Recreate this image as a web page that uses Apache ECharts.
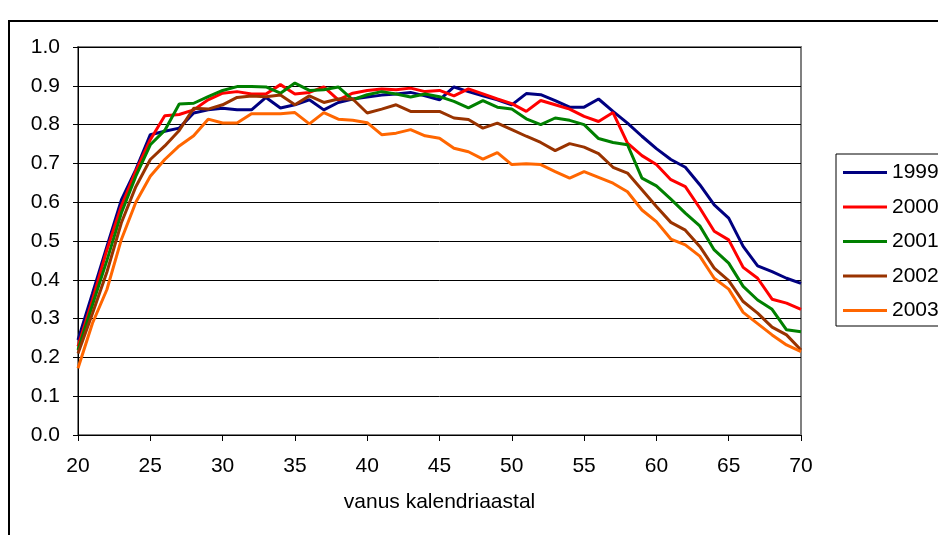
<!DOCTYPE html>
<html>
<head>
<meta charset="utf-8">
<script src="https://cdn.jsdelivr.net/npm/echarts@6/dist/echarts.min.js"></script>
<style>
  html, body { margin: 0; padding: 0; background: #fff; }
  #chart { width: 938px; height: 535px; }
</style>
</head>
<body>
<div id="chart"></div>
<script>
// vanus 20..70
const ages = [20,21,22,23,24,25,26,27,28,29,30,31,32,33,34,35,36,37,38,39,40,41,42,43,44,45,
  46,47,48,49,50,51,52,53,54,55,56,57,58,59,60,61,62,63,64,65,66,67,68,69,70];

const years = ['1999', '2000', '2001', '2002', '2003'];

const v1999 = [0.245,0.365,0.486,0.606,0.684,0.774,0.783,0.791,0.830,0.838,0.842,0.838,0.838,0.870,0.843,
  0.851,0.864,0.838,0.857,0.866,0.871,0.876,0.879,0.883,0.874,0.864,0.897,0.885,0.874,0.864,0.851,
  0.880,0.877,0.862,0.845,0.845,0.866,0.834,0.804,0.770,0.738,0.710,0.690,0.645,0.593,0.559,0.486,
  0.436,0.421,0.404,0.391];
const v2000 = [0.228,0.348,0.477,0.590,0.680,0.761,0.823,0.826,0.838,0.864,0.881,0.885,0.879,0.879,0.903,
  0.879,0.883,0.897,0.864,0.881,0.888,0.892,0.890,0.894,0.885,0.888,0.874,0.892,0.879,0.866,0.854,
  0.834,0.862,0.851,0.840,0.821,0.808,0.831,0.752,0.720,0.697,0.658,0.640,0.585,0.525,0.503,0.432,
  0.404,0.350,0.340,0.324];
const v2001 = [0.219,0.335,0.450,0.572,0.667,0.748,0.785,0.853,0.855,0.872,0.888,0.898,0.898,0.897,0.881,
  0.907,0.888,0.890,0.897,0.864,0.877,0.885,0.879,0.871,0.879,0.872,0.860,0.843,0.862,0.845,0.840,
  0.815,0.800,0.817,0.811,0.800,0.764,0.754,0.748,0.662,0.642,0.608,0.572,0.539,0.477,0.443,0.383,
  0.348,0.324,0.271,0.266];
const v2002 = [0.210,0.313,0.420,0.547,0.640,0.710,0.745,0.785,0.842,0.840,0.851,0.870,0.874,0.872,0.876,
  0.851,0.874,0.857,0.866,0.866,0.830,0.840,0.851,0.834,0.834,0.834,0.817,0.813,0.791,0.804,0.787,
  0.770,0.754,0.733,0.751,0.742,0.725,0.690,0.675,0.632,0.589,0.548,0.528,0.486,0.430,0.398,0.344,
  0.314,0.278,0.258,0.219];
const v2003 = [0.172,0.288,0.375,0.504,0.600,0.667,0.710,0.745,0.771,0.814,0.804,0.804,0.828,0.828,0.828,
  0.831,0.802,0.831,0.814,0.811,0.805,0.774,0.778,0.787,0.771,0.765,0.739,0.730,0.711,0.728,0.697,
  0.699,0.697,0.679,0.662,0.679,0.664,0.649,0.627,0.580,0.550,0.505,0.490,0.461,0.404,0.376,0.316,
  0.287,0.258,0.232,0.215];

const values = [v1999, v2000, v2001, v2002, v2003];
const colors = ['#000080', '#ff0000', '#008000', '#993300', '#ff6600'];

const font = "'Liberation Sans', Arial, sans-serif";

const chart = echarts.init(document.getElementById('chart'), null, { renderer: 'canvas' });

chart.setOption({
  animation: false,
  color: colors,
  textStyle: { fontFamily: font },
  // välimine raam
  graphic: [{
    type: 'rect',
    shape: { x: 9, y: 21, width: 1000, height: 600 },
    style: { fill: 'none', stroke: '#000', lineWidth: 2 },
    silent: true
  }],
  grid: {
    left: 78, right: 137, top: 47, bottom: 100,
    show: true, borderColor: '#808080', borderWidth: 2
  },
  legend: {
    orient: 'vertical',
    left: 836, top: 154,
    padding: [8, 12, 5, 7],
    icon: 'rect',
    itemWidth: 44, itemHeight: 3, itemGap: 13.5,
    borderColor: '#000', borderWidth: 1,
    textStyle: { fontFamily: font, fontSize: 21, lineHeight: 21, color: '#000' },
    data: years
  },
  xAxis: {
    type: 'value',
    min: 20, max: 70, interval: 5,
    name: 'vanus kalendriaastal',
    nameLocation: 'middle',
    nameGap: 57,
    nameTextStyle: { fontFamily: font, fontSize: 21, color: '#000' },
    axisLine: { lineStyle: { color: '#000', width: 1 } },
    axisTick: { inside: false, length: 6, lineStyle: { color: '#000' } },
    axisLabel: { margin: 21, fontSize: 21, color: '#000', fontFamily: font },
    splitLine: { show: false }
  },
  yAxis: {
    type: 'value',
    min: 0, max: 1, interval: 0.1,
    axisLine: { show: true, lineStyle: { color: '#000', width: 1 } },
    axisTick: { show: true, inside: false, length: 5, lineStyle: { color: '#000' } },
    axisLabel: { margin: 18, fontSize: 21, color: '#000', fontFamily: font,
      formatter: v => v.toFixed(1) },
    splitLine: { lineStyle: { color: '#000', width: 1 } }
  },
  series: years.map((y, k) => ({
    name: y,
    type: 'line',
    symbol: 'none',
    lineStyle: { width: 3, color: colors[k] },
    data: ages.map((a, i) => [a, values[k][i]])
  }))
});
</script>
</body>
</html>
